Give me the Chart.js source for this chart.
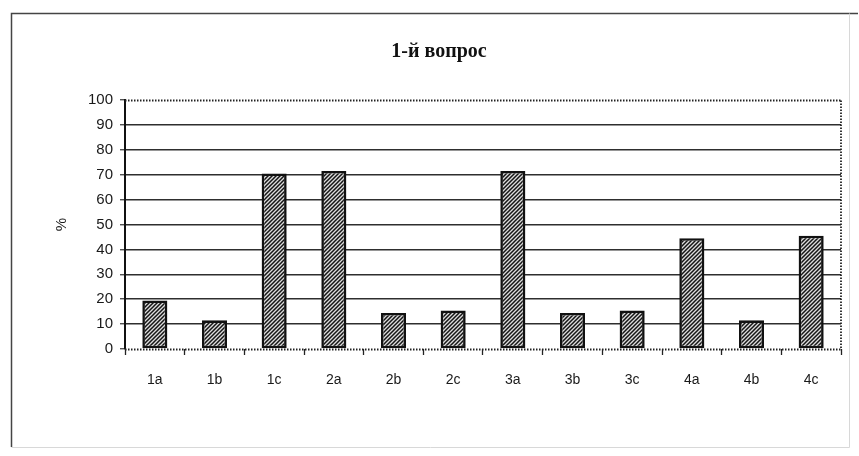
<!DOCTYPE html>
<html>
<head>
<meta charset="utf-8">
<script src="https://cdn.jsdelivr.net/npm/chart.js@4/dist/chart.umd.min.js"></script>
<style>
  html, body { margin: 0; padding: 0; background: #fff; }
  #wrap { width: 859px; height: 456px; }
</style>
</head>
<body>
<div id="wrap"><canvas id="c" width="859" height="456"></canvas></div>
<script>
// Answers to question 1, share of respondents in percent
const categories = ['1a', '1b', '1c', '2a', '2b', '2c', '3a', '3b', '3c', '4a', '4b', '4c'];
const percentages = [19.5, 11.5, 70.5, 71.5, 14.5, 15.5, 71.5, 14.5, 15.5, 44.5, 11.5, 45.5];
const yTickValues = [0, 10, 20, 30, 40, 50, 60, 70, 80, 90, 100];
const chartTitle = '1-й вопрос';
const axisTitle = '%';

// Diagonal hatch fill for the bars
function makeHatch() {
  const size = 4;
  const p = document.createElement('canvas');
  p.width = size; p.height = size;
  const g = p.getContext('2d');
  g.fillStyle = '#dcdcdc';
  g.fillRect(0, 0, size, size);
  g.strokeStyle = '#151515';
  g.lineWidth = 1.5;
  g.beginPath();
  g.moveTo(0, size); g.lineTo(size, 0);
  g.moveTo(-1, 1); g.lineTo(1, -1);
  g.moveTo(size - 1, size + 1); g.lineTo(size + 1, size - 1);
  g.stroke();
  return g.createPattern(p, 'repeat');
}

// Frame, dotted plot edges and the heading
const decorations = {
  id: 'decorations',
  beforeDraw(chart) {
    const ctx = chart.ctx;
    ctx.save();
    ctx.fillStyle = '#fff';
    ctx.fillRect(0, 0, chart.width, chart.height);
    ctx.restore();
  },
  afterDraw(chart) {
    const ctx = chart.ctx;
    const a = chart.chartArea;
    const y = chart.scales.y;
    ctx.save();
    // outer frame
    ctx.lineWidth = 1.5;
    ctx.strokeStyle = '#444';
    ctx.beginPath();
    ctx.moveTo(11.5, 447); ctx.lineTo(11.5, 13.5); ctx.lineTo(858, 13.5);
    ctx.stroke();
    ctx.strokeStyle = '#d8d8d8';
    ctx.lineWidth = 1;
    ctx.beginPath();
    ctx.moveTo(11.5, 447.5); ctx.lineTo(849.5, 447.5); ctx.lineTo(849.5, 13.5);
    ctx.stroke();
    // dotted top, right and bottom edges of the plot
    ctx.strokeStyle = '#222';
    ctx.lineWidth = 1.8;
    ctx.setLineDash([1.5, 1.5]);
    const top = Math.round(y.getPixelForValue(100)) + 0.5;
    const bottom = Math.round(y.getPixelForValue(0)) + 0.5;
    ctx.beginPath();
    ctx.moveTo(a.left, top); ctx.lineTo(a.right, top);
    ctx.moveTo(a.right, top); ctx.lineTo(a.right, bottom);
    ctx.moveTo(a.left, bottom); ctx.lineTo(a.right, bottom);
    ctx.stroke();
    ctx.setLineDash([]);
    // heading
    ctx.fillStyle = '#111';
    ctx.font = 'bold 20px "Liberation Serif", "DejaVu Serif", serif';
    ctx.textAlign = 'center';
    ctx.textBaseline = 'middle';
    ctx.fillText(chartTitle, 439, 52);
    ctx.restore();
  }
};

const tickFont = { family: '"Liberation Sans", Arial, sans-serif', size: 14 };

new Chart(document.getElementById('c'), {
  type: 'bar',
  data: {
    labels: categories,
    datasets: [{
      data: percentages,
      backgroundColor: makeHatch(),
      borderColor: '#111',
      borderWidth: 2.6,
      borderSkipped: false,
      barPercentage: 0.42,
      categoryPercentage: 1
    }]
  },
  options: {
    responsive: false,
    animation: false,
    devicePixelRatio: 1,
    layout: { padding: { top: 100, right: 18, bottom: 0, left: 0 } },
    plugins: {
      legend: { display: false },
      title: { display: false },
      tooltip: { enabled: false }
    },
    scales: {
      x: {
        offset: true,
        grid: {
          offset: true,
          drawOnChartArea: false,
          drawTicks: true,
          tickLength: 6,
          tickColor: '#222',
          tickWidth: 1.3
        },
        border: { display: false },
        ticks: { color: '#1a1a1a', font: tickFont, padding: 17, maxRotation: 0 },
        afterFit(scale) { scale.height = 107; }
      },
      y: {
        min: 0,
        max: 100,
        afterBuildTicks(scale) { scale.ticks = yTickValues.map(v => ({ value: v })); },
        grid: {
          color: ctx => (ctx.tick && (ctx.tick.value === 100 || ctx.tick.value === 0)) ? 'rgba(0,0,0,0)' : '#2e2e2e',
          lineWidth: 1.5,
          tickColor: '#333',
          tickLength: 5,
          tickWidth: 1.2
        },
        border: { display: true, color: '#111', width: 2 },
        ticks: { color: '#1a1a1a', font: { family: '"Liberation Sans", Arial, sans-serif', size: 15 }, padding: 7 },
        title: {
          display: true,
          text: axisTitle,
          color: '#1a1a1a',
          font: { family: '"Liberation Sans", Arial, sans-serif', size: 15 },
          padding: { top: 53, bottom: 0 }
        },
        afterFit(scale) { scale.width = 125; }
      }
    }
  },
  plugins: [decorations]
});
</script>
</body>
</html>
